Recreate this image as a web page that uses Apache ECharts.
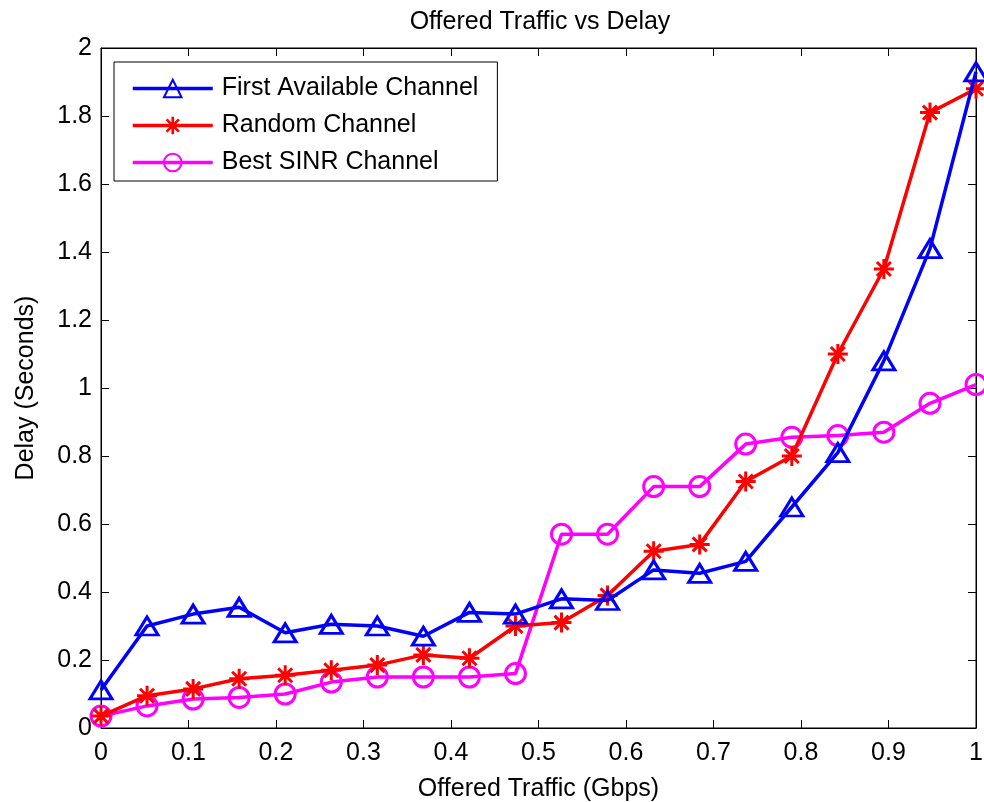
<!DOCTYPE html>
<html>
<head>
<meta charset="utf-8">
<script src="https://cdn.jsdelivr.net/npm/echarts@6/dist/echarts.min.js"></script>
<style>html,body{margin:0;padding:0;background:#fff;}#c{width:984px;height:802px;}</style>
</head>
<body>
<div id="c"></div>
<script>
const traffic = [0, 0.0526, 0.1053, 0.1579, 0.2105, 0.2632, 0.3158, 0.3684, 0.4211, 0.4737,
                 0.5263, 0.5789, 0.6316, 0.6842, 0.7368, 0.7895, 0.8421, 0.8947, 0.9474, 1.0];
const firstAvailable = [0.112, 0.30, 0.335, 0.355, 0.28, 0.305, 0.30, 0.27, 0.34, 0.335,
                        0.38, 0.375, 0.465, 0.455, 0.49, 0.65, 0.81, 1.08, 1.41, 1.93];
const randomCh = [0.035, 0.095, 0.115, 0.145, 0.155, 0.17, 0.185, 0.215, 0.205, 0.30,
                  0.31, 0.39, 0.52, 0.54, 0.725, 0.80, 1.10, 1.35, 1.81, 1.88];
const bestSinr = [0.035, 0.065, 0.085, 0.09, 0.10, 0.135, 0.15, 0.15, 0.15, 0.16,
                  0.57, 0.57, 0.71, 0.71, 0.835, 0.855, 0.86, 0.87, 0.955, 1.01];
const seriesNames = ['First Available Channel', 'Random Channel', 'Best SINR Channel'];

const pair = arr => traffic.map((x, i) => [x, arr[i]]);
const asterisk = 'path://M0 8.5 L20 8.5 L20 11.5 L0 11.5 Z M8.5 0 L11.5 0 L11.5 20 L8.5 20 Z ' +
  'M1.94 4.06 L4.06 1.94 L18.06 15.94 L15.94 18.06 Z M15.94 1.94 L18.06 4.06 L4.06 18.06 L1.94 15.94 Z';
const font = 'Liberation Sans, Arial, sans-serif';
const FS = 25;

const chart = echarts.init(document.getElementById('c'));
function axisStyle() {
  return {
    axisLine: {show: true, onZero: false, lineStyle: {color: '#000', width: 1}},
    axisTick: {show: true, inside: true, length: 8, lineStyle: {color: '#000', width: 1}},
    splitLine: {show: false}
  };
}
chart.setOption({
  backgroundColor: '#fff',
  animation: false,
  title: {
    text: 'Offered Traffic vs Delay', left: 535, top: 5, textAlign: 'center',
    textStyle: {fontFamily: font, fontSize: FS, fontWeight: 'normal', color: '#000'}
  },
  grid: {left: 101, right: 8, top: 48, bottom: 74, show: true, borderColor: '#000', borderWidth: 1,
         containLabel: false, outerBoundsMode: 'none'},
  legend: {
    orient: 'vertical', left: 114, top: 62,
    data: seriesNames,
    backgroundColor: '#fff', borderColor: '#000', borderWidth: 1,
    padding: [14, 19, 6, 17], itemGap: 12, itemWidth: 80, itemHeight: 22,
    lineStyle: {width: 3.5},
    textStyle: {fontFamily: font, fontSize: FS, color: '#000', padding: [0, 0, 0, 4]}
  },
  xAxis: [
    Object.assign({
      type: 'value', min: 0, max: 1, interval: 0.1, position: 'bottom',
      name: 'Offered Traffic (Gbps)', nameLocation: 'middle', nameGap: 49,
      nameTextStyle: {fontFamily: font, fontSize: FS, color: '#000'},
      axisLabel: {fontFamily: font, fontSize: FS, color: '#000', margin: 13}
    }, axisStyle()),
    Object.assign({
      type: 'value', min: 0, max: 1, interval: 0.1, position: 'top',
      axisLabel: {show: false}
    }, axisStyle())
  ],
  yAxis: [
    Object.assign({
      type: 'value', min: 0, max: 2, interval: 0.2, position: 'left',
      name: 'Delay (Seconds)', nameLocation: 'middle', nameGap: 62,
      nameTextStyle: {fontFamily: font, fontSize: FS, color: '#000'},
      axisLabel: {fontFamily: font, fontSize: FS, color: '#000', margin: 9}
    }, axisStyle()),
    Object.assign({
      type: 'value', min: 0, max: 2, interval: 0.2, position: 'right',
      axisLabel: {show: false}
    }, axisStyle())
  ],
  series: [
    {
      name: seriesNames[0], type: 'line', data: pair(firstAvailable),
      symbol: 'triangle', symbolSize: [22, 18], showAllSymbol: true,
      lineStyle: {color: '#0000ff', width: 3.5},
      itemStyle: {color: 'rgba(255,255,255,0)', borderColor: '#0000ff', borderWidth: 3},
      z: 4
    },
    {
      name: seriesNames[1], type: 'line', data: pair(randomCh),
      symbol: asterisk, symbolSize: 20, showAllSymbol: true,
      lineStyle: {color: '#ff0000', width: 3.5},
      itemStyle: {color: '#ff0000', borderWidth: 0},
      z: 3
    },
    {
      name: seriesNames[2], type: 'line', data: pair(bestSinr),
      symbol: 'circle', symbolSize: 20, showAllSymbol: true,
      lineStyle: {color: '#ff00ff', width: 3.5},
      itemStyle: {color: 'rgba(255,255,255,0)', borderColor: '#ff00ff', borderWidth: 3},
      z: 2
    }
  ]
});
</script>
</body>
</html>
